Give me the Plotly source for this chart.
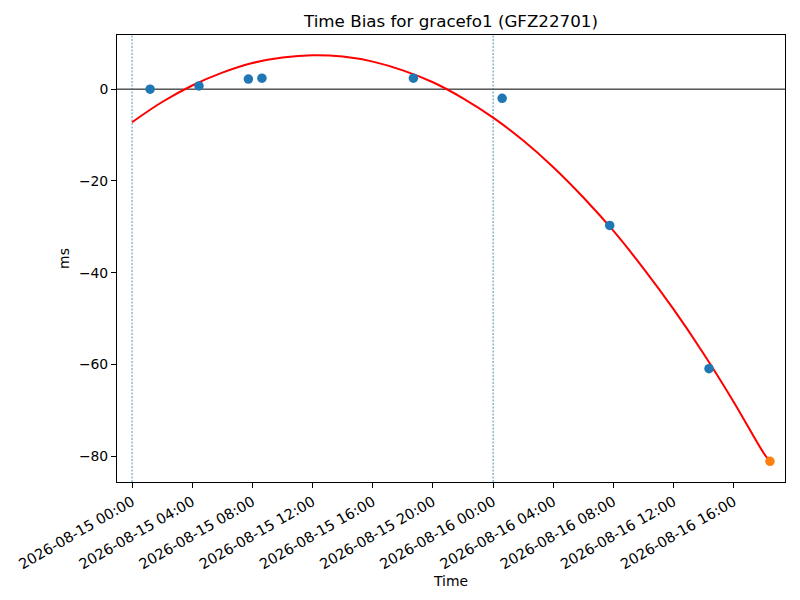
import plotly.graph_objects as go

# observed time bias points (ms)
obs_times = [
    "2026-08-15 01:12", "2026-08-15 04:27", "2026-08-15 07:44", "2026-08-15 08:38",
    "2026-08-15 18:42", "2026-08-16 00:36", "2026-08-16 07:45", "2026-08-16 14:21",
]
obs_bias = [0.0, 0.7, 2.2, 2.4, 2.4, -2.0, -29.7, -60.9]

# predicted point (orange)
pred_times = ["2026-08-16 18:24"]
pred_bias = [-81.1]

# fitted curve
fit_times = [
    "2026-08-15 00:00", "2026-08-15 02:00", "2026-08-15 04:00", "2026-08-15 06:00",
    "2026-08-15 08:00", "2026-08-15 10:00", "2026-08-15 12:00", "2026-08-15 14:00",
    "2026-08-15 16:00", "2026-08-15 18:00", "2026-08-15 20:00", "2026-08-15 22:00",
    "2026-08-16 00:00", "2026-08-16 02:00", "2026-08-16 04:00", "2026-08-16 06:00",
    "2026-08-16 08:00", "2026-08-16 10:00", "2026-08-16 12:00", "2026-08-16 14:00",
    "2026-08-16 16:00", "2026-08-16 18:00", "2026-08-16 18:24",
]
fit_bias = [
    -7.2, -2.8, 0.8, 3.6, 5.7, 6.9, 7.4, 7.1, 6.0, 4.1, 1.5, -2.0,
    -6.2, -11.2, -17.0, -23.6, -30.9, -39.1, -48.0, -57.7, -68.2, -79.4, -81.1,
]

day_boundaries = ["2026-08-15 00:00", "2026-08-16 00:00"]

font = dict(family="DejaVu Sans", size=13.9, color="black")
xtick_font = dict(family="DejaVu Sans", size=14.5, color="black")

fig = go.Figure()

# zero line
fig.add_hline(y=0, line=dict(color="black", width=1), layer="below")

# day boundaries
for d in day_boundaries:
    fig.add_vline(x=d, line=dict(color="#1f77b4", width=0.8, dash="2px,1.5px"), layer="below")

fig.add_trace(go.Scatter(
    x=fit_times, y=fit_bias, mode="lines", line_shape="spline",
    line=dict(color="red", width=2), name="fit",
))
fig.add_trace(go.Scatter(
    x=obs_times, y=obs_bias, mode="markers",
    marker=dict(color="#1f77b4", size=9.5), name="obs",
))
fig.add_trace(go.Scatter(
    x=pred_times, y=pred_bias, mode="markers",
    marker=dict(color="#ff7f0e", size=9.5), name="pred",
))

# the page body adds an 8px offset, margins compensate for it
fig.update_layout(
    width=800,
    height=600,
    showlegend=False,
    plot_bgcolor="white",
    paper_bgcolor="white",
    font=font,
    margin=dict(l=109, r=23, t=27, b=126, autoexpand=False),
    title=dict(
        text="Time Bias for gracefo1 (GFZ22701)",
        xref="paper", x=0.5, xanchor="center",
        yref="container", y=1 - 13 / 600, yanchor="middle",
        font=dict(family="DejaVu Sans", size=16.7, color="black"),
    ),
    xaxis=dict(
        title=dict(text="Time", standoff=4, font=font),
        automargin=False,
        range=["2026-08-14 23:00", "2026-08-16 19:24"],
        tickformat="%Y-%m-%d %H:%M",
        tick0="2026-08-15 00:00",
        dtick=4 * 3600 * 1000,
        tickangle=-30,
        tickfont=xtick_font,
        ticks="outside", ticklen=5, tickcolor="black",
        showgrid=False, zeroline=False,
        showline=True, linecolor="black", linewidth=1, mirror=True,
    ),
    yaxis=dict(
        title=dict(text="ms", standoff=6, font=font),
        automargin=False,
        range=[-85.6, 11.8],
        tickvals=[-80, -60, -40, -20, 0],
        tickfont=font,
        ticks="outside", ticklen=5, tickcolor="black",
        showgrid=False, zeroline=False,
        showline=True, linecolor="black", linewidth=1, mirror=True,
    ),
)

fig.write_html("out.html")
